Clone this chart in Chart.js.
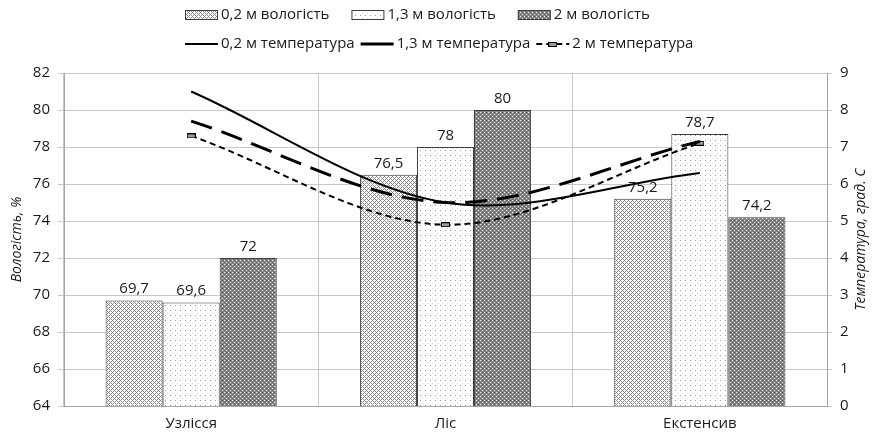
<!DOCTYPE html>
<html>
<head>
<meta charset="utf-8">
<script src="https://cdn.jsdelivr.net/npm/chart.js@4.4.1/dist/chart.umd.min.js"></script>
<style>
  html, body { margin: 0; padding: 0; background: #fff; }
  #wrap { width: 872px; height: 437px; position: relative; }
</style>
</head>
<body>
<div id="wrap"><canvas id="c" width="872" height="437"></canvas></div>
<script>
// Categories and measured values
const categories = ['Узлісся', 'Ліс', 'Екстенсив'];
const moisture02 = [69.7, 76.5, 75.2];
const moisture13 = [69.6, 78, 78.7];
const moisture2 = [72, 80, 74.2];
const temp02 = [8.5, 5.5, 6.3];
const temp13 = [7.7, 5.5, 7.15];
const temp2 = [7.3, 4.9, 7.1];
const moistureTicks = { min: 64, max: 82, step: 2 };
const tempTicks = { min: 0, max: 9, step: 1 };
const seriesNames = ['0,2 м вологість', '1,3 м вологість', '2 м вологість',
                     '0,2 м температура', '1,3 м температура', '2 м температура'];
const axisTitles = ['Вологість, %', 'Температура, град. С'];

const FONT = '"Open Sans", "DejaVu Sans", sans-serif';
const TEXT = '#1a1a1a';
const GRID = '#c8c8c8';
const AXIS = '#a6a6a6';
const CURVE_TENSION = 0.33;

const ctxMain = document.getElementById('c').getContext('2d');

// Small tiled fills for the bars
function makePattern(size, bg, dots) {
  const c = document.createElement('canvas');
  c.width = c.height = size;
  const g = c.getContext('2d');
  g.fillStyle = bg;
  g.fillRect(0, 0, size, size);
  dots.forEach(([x, y, col]) => { g.fillStyle = col; g.fillRect(x, y, 1, 1); });
  return ctxMain.createPattern(c, 'repeat');
}
const hatchDots = [];
for (let y = 0; y < 4; y++) for (let x = 0; x < 4; x++) {
  if ((x + y) % 4 === 0 || (x - y + 4) % 4 === 0) hatchDots.push([x, y, '#8c8c8c']);
}
const fill02 = makePattern(4, '#ffffff', hatchDots);
const fill13 = makePattern(5, '#ffffff', [[0, 0, '#9a9a9a'], [2, 3, '#dcdcdc']]);
const fill2 = makePattern(4, '#828282', [[0, 0, '#ffffff'], [2, 2, '#e6e6e6'], [2, 0, '#555555'], [0, 2, '#6a6a6a']]);

// Point marker for the 2 m temperature line
const marker = document.createElement('canvas');
marker.width = 9; marker.height = 5;
const mg = marker.getContext('2d');
mg.fillStyle = '#000'; mg.fillRect(0, 0, 9, 5);
mg.fillStyle = '#9a9a9a'; mg.fillRect(1, 1, 7, 3);

// Value labels above each bar, drawn right after the bar dataset so lines stay on top
const barValueLabels = {
  id: 'barValueLabels',
  afterDatasetDraw(chart, args) {
    const ds = chart.data.datasets[args.index];
    if (ds.type !== 'bar') return;
    const ctx = chart.ctx;
    ctx.save();
    ctx.font = '15px ' + FONT;
    ctx.fillStyle = TEXT;
    ctx.textAlign = 'center';
    ctx.textBaseline = 'bottom';
    args.meta.data.forEach((el, i) => {
      ctx.fillText(String(ds.data[i]).replace('.', ','), el.x, el.y - 4);
    });
    ctx.restore();
  }
};

// Two-row legend and the right axis title (reads bottom to top)
const legendAndTitle = {
  id: 'legendAndTitle',
  afterDraw(chart) {
    const ctx = chart.ctx;
    ctx.save();
    ctx.font = '15px ' + FONT;
    ctx.textBaseline = 'middle';
    const rows = [{ y: 15, items: [0, 1, 2], gap: 22 }, { y: 44, items: [3, 4, 5], gap: 6 }];
    rows.forEach(row => {
      let x = 185;
      row.items.forEach(i => {
        const ds = chart.data.datasets[i];
        if (ds.type === 'bar') {
          ctx.fillStyle = ds.backgroundColor;
          ctx.fillRect(x, row.y - 5, 33, 10);
          ctx.strokeStyle = ds.borderColor;
          ctx.lineWidth = 1;
          ctx.setLineDash([]);
          ctx.strokeRect(x + 0.5, row.y - 4.5, 32, 9);
        } else {
          ctx.strokeStyle = ds.borderColor;
          ctx.lineWidth = ds.borderWidth;
          const dash = ds.borderDash || [];
          // a long dash reads as one solid stroke in the short sample
          ctx.setLineDash(dash.length && dash[0] > 15 ? [] : dash);
          ctx.beginPath();
          ctx.moveTo(x, row.y);
          ctx.lineTo(x + 33, row.y);
          ctx.stroke();
          ctx.setLineDash([]);
          if (ds.pointStyle instanceof HTMLCanvasElement) {
            ctx.drawImage(ds.pointStyle, x + 12, row.y - 2);
          }
        }
        x += 36;
        ctx.fillStyle = TEXT;
        ctx.fillText(ds.label, x, row.y);
        x += ctx.measureText(ds.label).width + row.gap;
      });
    });
    // right axis title
    const area = chart.chartArea;
    ctx.font = 'italic 14px ' + FONT;
    ctx.textAlign = 'center';
    ctx.translate(861, (area.top + area.bottom) / 2);
    ctx.rotate(-Math.PI / 2);
    ctx.fillText(axisTitles[1], 0, 0);
    ctx.restore();
  }
};

const tickFont = { family: FONT, size: 15 };

new Chart(ctxMain, {
  data: {
    labels: categories,
    datasets: [
      { type: 'bar', label: seriesNames[0], data: moisture02, yAxisID: 'y', order: 2,
        backgroundColor: fill02, borderColor: '#3c3c3c', borderWidth: 1 },
      { type: 'bar', label: seriesNames[1], data: moisture13, yAxisID: 'y', order: 2,
        backgroundColor: fill13, borderColor: '#3c3c3c', borderWidth: 1 },
      { type: 'bar', label: seriesNames[2], data: moisture2, yAxisID: 'y', order: 2,
        backgroundColor: fill2, borderColor: '#3c3c3c', borderWidth: 1 },
      { type: 'line', label: seriesNames[3], data: temp02, yAxisID: 'y1', order: 1,
        borderColor: '#000', borderWidth: 2, tension: CURVE_TENSION, pointRadius: 0, fill: false },
      { type: 'line', label: seriesNames[4], data: temp13, yAxisID: 'y1', order: 1,
        borderColor: '#000', borderWidth: 3, borderDash: [22, 10], tension: CURVE_TENSION, pointRadius: 0, fill: false },
      { type: 'line', label: seriesNames[5], data: temp2, yAxisID: 'y1', order: 1,
        borderColor: '#000', borderWidth: 2, borderDash: [6, 4], tension: CURVE_TENSION,
        pointStyle: marker, pointRadius: 4, fill: false }
    ]
  },
  options: {
    responsive: false,
    animation: false,
    layout: { padding: { top: 73, left: 0, right: 0, bottom: 0 } },
    datasets: { bar: { categoryPercentage: 0.673, barPercentage: 1.0 } },
    plugins: { legend: { display: false }, tooltip: { enabled: false } },
    scales: {
      x: {
        grid: { offset: true, color: GRID, drawTicks: false },
        border: { color: AXIS },
        ticks: { font: tickFont, color: TEXT, padding: 9 },
        afterFit(s) { s.height = 31; }
      },
      y: {
        position: 'left',
        min: moistureTicks.min, max: moistureTicks.max,
        ticks: { stepSize: moistureTicks.step, font: tickFont, color: TEXT, padding: 8 },
        grid: { color: GRID, tickLength: 6 },
        border: { color: AXIS },
        title: { display: true, text: axisTitles[0], color: TEXT,
                 font: { family: FONT, size: 14, style: 'italic' }, padding: { top: 9, bottom: 0 } },
        afterFit(s) { s.width = 64; }
      },
      y1: {
        position: 'right',
        min: tempTicks.min, max: tempTicks.max,
        ticks: { stepSize: tempTicks.step, font: tickFont, color: TEXT, padding: 8 },
        grid: { drawOnChartArea: false, color: GRID, tickLength: 5 },
        border: { color: AXIS },
        afterFit(s) { s.width = 45; }
      }
    }
  },
  plugins: [barValueLabels, legendAndTitle]
});
</script>
</body>
</html>
